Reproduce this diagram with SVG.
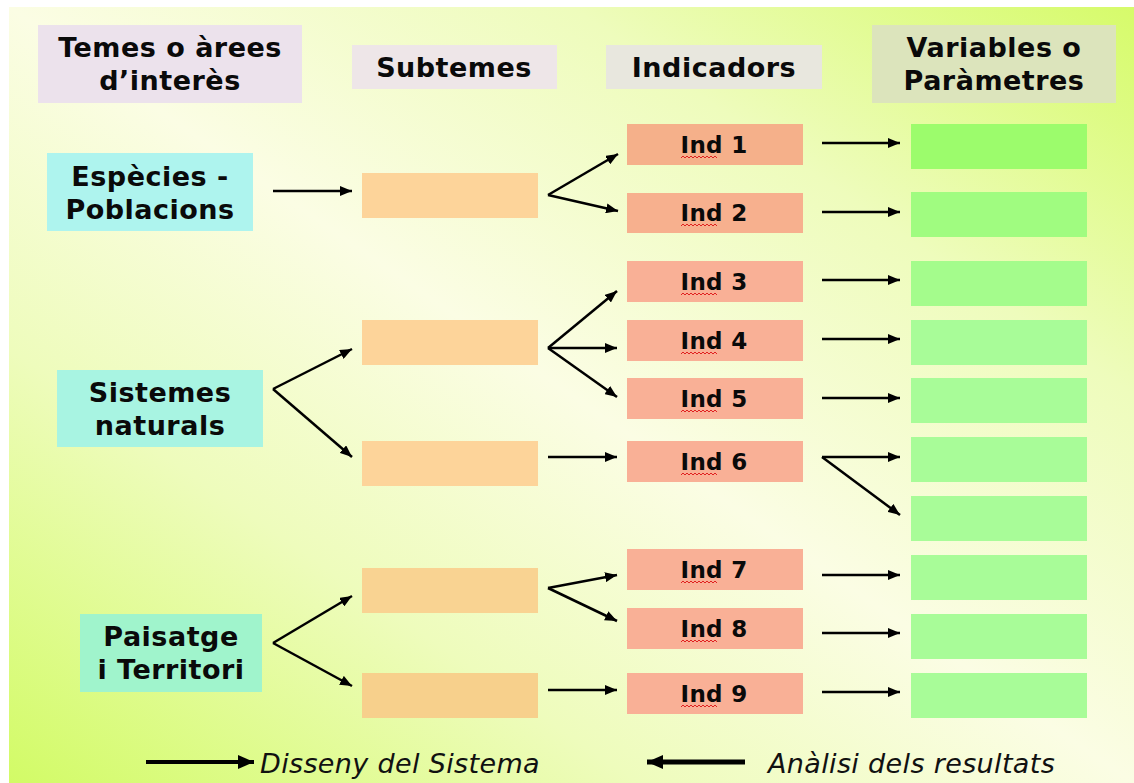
<svg xmlns="http://www.w3.org/2000/svg" width="1134" height="783" viewBox="0 0 1134 783">
<defs>
<linearGradient id="bg" x1="1" y1="0" x2="0" y2="1">
<stop offset="0" stop-color="#d6fb6a"/>
<stop offset="0.25" stop-color="#eefcbc"/>
<stop offset="0.5" stop-color="#fbfde4"/>
<stop offset="0.72" stop-color="#eefcbc"/>
<stop offset="1" stop-color="#d2fb66"/>
</linearGradient>
<marker id="ah" markerUnits="userSpaceOnUse" markerWidth="12" markerHeight="10" refX="12" refY="5" orient="auto">
<path d="M0,0 L12,5 L0,10 z" fill="#000"/>
</marker>
<marker id="ahb" markerUnits="userSpaceOnUse" markerWidth="16" markerHeight="14" refX="16" refY="7" orient="auto">
<path d="M0,0 L16,7 L0,14 z" fill="#000"/>
</marker>
</defs>
<style>
.t{font-family:"DejaVu Sans",Verdana,sans-serif;font-weight:bold;font-size:27px;letter-spacing:0.5px;fill:#0a0a0a;text-anchor:middle}
.ind{font-family:"DejaVu Sans",Verdana,sans-serif;font-weight:bold;font-size:23px;letter-spacing:0.3px;fill:#0a0a0a;text-anchor:middle}
.leg{font-family:"DejaVu Sans",Verdana,sans-serif;font-style:italic;font-size:27px;letter-spacing:0.35px;fill:#111}
.c{fill:none;stroke:#000;stroke-width:2.5;marker-end:url(#ah)}
.sub{fill:#fdd49a}
.indr{fill:#f9b096}
.var{fill:#a8fc98}
.wave{fill:none;stroke:#e02020;stroke-width:1}
</style>
<rect width="1134" height="783" fill="#fff"/>
<rect x="9" y="7" width="1125" height="776" fill="url(#bg)"/>

<g id="h-temes"><rect x="38" y="25" width="264" height="78" fill="#ece2ec"/><text class="t" x="170" y="57">Temes o àrees</text><text class="t" x="170" y="90">d’interès</text></g>
<g id="h-subtemes"><rect x="352" y="45" width="205" height="44" fill="#eee6e8"/><text class="t" x="454" y="77">Subtemes</text></g>
<g id="h-indicadors"><rect x="606" y="45" width="216" height="44" fill="#e8e7de"/><text class="t" x="714" y="77">Indicadors</text></g>
<g id="h-variables"><rect x="872" y="25" width="244" height="78" fill="#dce4bc"/><text class="t" x="994" y="57">Variables o</text><text class="t" x="994" y="90">Paràmetres</text></g>

<g id="n-especies"><rect x="47" y="153" width="206" height="78" fill="#aef4ee"/><text class="t" x="150" y="186">Espècies -</text><text class="t" x="150" y="219">Poblacions</text></g>
<g id="n-sistemes"><rect x="57" y="370" width="206" height="77" fill="#a8f4e2"/><text class="t" x="160" y="402">Sistemes</text><text class="t" x="160" y="435">naturals</text></g>
<g id="n-paisatge"><rect x="80" y="614" width="182" height="78" fill="#a0f4cc"/><text class="t" x="171" y="646">Paisatge</text><text class="t" x="171" y="679">i Territori</text></g>

<g id="s1"><rect class="sub" x="362" y="173" width="176" height="45"/></g>
<g id="s2"><rect class="sub" x="362" y="320" width="176" height="45"/></g>
<g id="s3"><rect class="sub" x="362" y="441" width="176" height="45"/></g>
<g id="s4"><rect x="362" y="568" width="176" height="45" fill="#f9d392"/></g>
<g id="s5"><rect x="362" y="673" width="176" height="45" fill="#f7d08c"/></g>

<g id="i1"><rect x="627" y="124" width="176" height="41" fill="#f5b08a"/><text class="ind" x="714" y="153">Ind 1</text><path class="wave" d="M681,158 l2,-2 l2,2 l2,-2 l2,2 l2,-2 l2,2 l2,-2 l2,2 l2,-2 l2,2 l2,-2 l2,2 l2,-2 l2,2 l2,-2 l2,2 l2,-2 l2,2"/></g>
<g id="i2"><rect x="627" y="193" width="176" height="40" fill="#f7b08e"/><text class="ind" x="714" y="221">Ind 2</text><path class="wave" d="M681,226 l2,-2 l2,2 l2,-2 l2,2 l2,-2 l2,2 l2,-2 l2,2 l2,-2 l2,2 l2,-2 l2,2 l2,-2 l2,2 l2,-2 l2,2 l2,-2 l2,2"/></g>
<g id="i3"><rect class="indr" x="627" y="261" width="176" height="41"/><text class="ind" x="714" y="290">Ind 3</text><path class="wave" d="M681,295 l2,-2 l2,2 l2,-2 l2,2 l2,-2 l2,2 l2,-2 l2,2 l2,-2 l2,2 l2,-2 l2,2 l2,-2 l2,2 l2,-2 l2,2 l2,-2 l2,2"/></g>
<g id="i4"><rect class="indr" x="627" y="320" width="176" height="41"/><text class="ind" x="714" y="349">Ind 4</text><path class="wave" d="M681,354 l2,-2 l2,2 l2,-2 l2,2 l2,-2 l2,2 l2,-2 l2,2 l2,-2 l2,2 l2,-2 l2,2 l2,-2 l2,2 l2,-2 l2,2 l2,-2 l2,2"/></g>
<g id="i5"><rect class="indr" x="627" y="378" width="176" height="41"/><text class="ind" x="714" y="407">Ind 5</text><path class="wave" d="M681,412 l2,-2 l2,2 l2,-2 l2,2 l2,-2 l2,2 l2,-2 l2,2 l2,-2 l2,2 l2,-2 l2,2 l2,-2 l2,2 l2,-2 l2,2 l2,-2 l2,2"/></g>
<g id="i6"><rect class="indr" x="627" y="441" width="176" height="41"/><text class="ind" x="714" y="470">Ind 6</text><path class="wave" d="M681,475 l2,-2 l2,2 l2,-2 l2,2 l2,-2 l2,2 l2,-2 l2,2 l2,-2 l2,2 l2,-2 l2,2 l2,-2 l2,2 l2,-2 l2,2 l2,-2 l2,2"/></g>
<g id="i7"><rect class="indr" x="627" y="549" width="176" height="41"/><text class="ind" x="714" y="578">Ind 7</text><path class="wave" d="M681,583 l2,-2 l2,2 l2,-2 l2,2 l2,-2 l2,2 l2,-2 l2,2 l2,-2 l2,2 l2,-2 l2,2 l2,-2 l2,2 l2,-2 l2,2 l2,-2 l2,2"/></g>
<g id="i8"><rect class="indr" x="627" y="608" width="176" height="41"/><text class="ind" x="714" y="637">Ind 8</text><path class="wave" d="M681,642 l2,-2 l2,2 l2,-2 l2,2 l2,-2 l2,2 l2,-2 l2,2 l2,-2 l2,2 l2,-2 l2,2 l2,-2 l2,2 l2,-2 l2,2 l2,-2 l2,2"/></g>
<g id="i9"><rect class="indr" x="627" y="673" width="176" height="41"/><text class="ind" x="714" y="702">Ind 9</text><path class="wave" d="M681,707 l2,-2 l2,2 l2,-2 l2,2 l2,-2 l2,2 l2,-2 l2,2 l2,-2 l2,2 l2,-2 l2,2 l2,-2 l2,2 l2,-2 l2,2 l2,-2 l2,2"/></g>

<g id="v1"><rect x="911" y="124" width="176" height="45" fill="#9cfc6c"/></g>
<g id="v2"><rect x="911" y="192" width="176" height="45" fill="#a0fc80"/></g>
<g id="v3"><rect x="911" y="261" width="176" height="45" fill="#a4fc8c"/></g>
<g id="v4"><rect class="var" x="911" y="320" width="176" height="45"/></g>
<g id="v5"><rect class="var" x="911" y="378" width="176" height="45"/></g>
<g id="v6"><rect class="var" x="911" y="437" width="176" height="45"/></g>
<g id="v7"><rect class="var" x="911" y="496" width="176" height="45"/></g>
<g id="v8"><rect class="var" x="911" y="555" width="176" height="45"/></g>
<g id="v9"><rect class="var" x="911" y="614" width="176" height="45"/></g>
<g id="v10"><rect class="var" x="911" y="673" width="176" height="45"/></g>

<g id="connectors">
<line class="c" x1="273" y1="191" x2="352" y2="191"/>
<line class="c" x1="548" y1="195" x2="618" y2="154"/>
<line class="c" x1="548" y1="195" x2="618" y2="211"/>
<line class="c" x1="273" y1="389" x2="352" y2="349"/>
<line class="c" x1="273" y1="389" x2="352" y2="457"/>
<line class="c" x1="548" y1="348" x2="617" y2="291"/>
<line class="c" x1="548" y1="348" x2="617" y2="348"/>
<line class="c" x1="548" y1="348" x2="617" y2="397"/>
<line class="c" x1="548" y1="457" x2="617" y2="457"/>
<line class="c" x1="273" y1="643" x2="352" y2="596"/>
<line class="c" x1="273" y1="643" x2="352" y2="686"/>
<line class="c" x1="548" y1="588" x2="617" y2="575"/>
<line class="c" x1="548" y1="588" x2="617" y2="621"/>
<line class="c" x1="548" y1="690" x2="617" y2="690"/>
<line class="c" x1="822" y1="143" x2="900" y2="143"/>
<line class="c" x1="822" y1="212" x2="900" y2="212"/>
<line class="c" x1="822" y1="280" x2="900" y2="280"/>
<line class="c" x1="822" y1="339" x2="900" y2="339"/>
<line class="c" x1="822" y1="398" x2="900" y2="398"/>
<line class="c" x1="822" y1="457" x2="900" y2="457"/>
<line class="c" x1="822" y1="457" x2="900" y2="515"/>
<line class="c" x1="822" y1="575" x2="900" y2="575"/>
<line class="c" x1="822" y1="633" x2="900" y2="633"/>
<line class="c" x1="822" y1="692" x2="900" y2="692"/>
<line x1="146" y1="762" x2="254" y2="762" stroke="#000" stroke-width="4" marker-end="url(#ahb)"/>
<line x1="745" y1="762" x2="647" y2="762" stroke="#000" stroke-width="5" marker-end="url(#ahb)"/>
</g>
<g id="legend">
<text class="leg" x="260" y="773">Disseny del Sistema</text>
<text class="leg" x="768" y="773">Anàlisi dels resultats</text>
</g>
</svg>
